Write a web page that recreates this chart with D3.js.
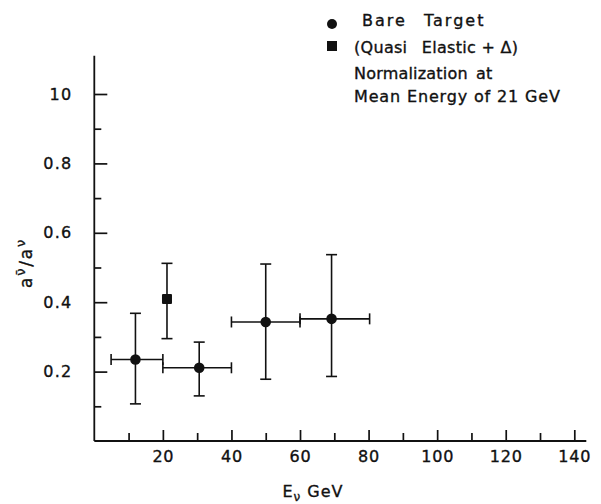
<!DOCTYPE html>
<html>
<head>
<meta charset="utf-8">
<script src="https://cdn.jsdelivr.net/npm/d3@7"></script>
<style>
  html, body { margin: 0; padding: 0; background: #fff; }
  text { font-family: "DejaVu Sans", sans-serif; fill: #111; stroke: #111; stroke-width: 0.35px; }
</style>
</head>
<body>
<svg id="chart" width="601" height="504"></svg>
<script>
// Bare target points: energy bin centre, bin edges, ratio and its error limits
const bareE     = [12, 30.6, 50, 69.2];
const bareELow  = [4.9, 20, 40, 60];
const bareEHigh = [20, 40, 60, 80.3];
const bareRatio = [0.235, 0.211, 0.343, 0.352];
const bareLow   = [0.107, 0.13, 0.178, 0.186];
const bareHigh  = [0.368, 0.285, 0.51, 0.537];

// Quasi-elastic + Delta point
const qeE     = [21.2];
const qeRatio = [0.409];
const qeLow   = [0.295];
const qeHigh  = [0.512];

// Axis ticks and labels
const xMajor = [20, 40, 60, 80, 100, 120, 140];
const xMinor = [10, 30, 50, 70, 90, 110, 130];
const yMajor = [0.2, 0.4, 0.6, 0.8, 1.0];
const yMajorLabels = ["0.2", "0.4", "0.6", "0.8", "10"];
const yMinor = [0.1, 0.3, 0.5, 0.7, 0.9];

const svg = d3.select("#chart");
const x = d3.scaleLinear().domain([0, 140]).range([94.3, 574.3]);
const y = d3.scaleLinear().domain([0, 1.0]).range([441, 94]);

const ink = "#111";
const g = svg.append("g");

function styleAxis(sel) {
  sel.select(".domain").remove();
  sel.selectAll(".tick line").attr("stroke", ink).attr("stroke-width", 1.7);
  sel.selectAll(".tick text").attr("fill", ink).attr("font-family", null);
}

// x axis: major ticks with labels, minor ticks without, all pointing into the plot
g.append("g").attr("transform", `translate(0,${y(0)})`)
  .call(d3.axisBottom(x).tickValues(xMajor).tickSizeInner(-11).tickSizeOuter(0).tickPadding(23).tickFormat(d3.format("d")))
  .call(styleAxis)
  .call(a => a.selectAll(".tick text").attr("font-size", 16).attr("letter-spacing", 0.8).attr("dy", "-0.1em"));
g.append("g").attr("transform", `translate(0,${y(0)})`)
  .call(d3.axisBottom(x).tickValues(xMinor).tickSizeInner(-8).tickSizeOuter(0).tickFormat(""))
  .call(styleAxis);

// y axis
g.append("g").attr("transform", `translate(${x(0)},0)`)
  .call(d3.axisLeft(y).tickValues(yMajor).tickSizeInner(-13).tickSizeOuter(0).tickPadding(22)
    .tickFormat((d, i) => yMajorLabels[i]))
  .call(styleAxis)
  .call(a => a.selectAll(".tick text").attr("font-size", 16).attr("letter-spacing", 1.2));
g.append("g").attr("transform", `translate(${x(0)},0)`)
  .call(d3.axisLeft(y).tickValues(yMinor).tickSizeInner(-7).tickSizeOuter(0).tickFormat(""))
  .call(styleAxis);

// axis lines
g.append("line").attr("x1", x(0)).attr("x2", x(143.5)).attr("y1", y(0)).attr("y2", y(0))
  .attr("stroke", ink).attr("stroke-width", 1.8);
g.append("line").attr("x1", x(0)).attr("x2", x(0)).attr("y1", y(0)).attr("y2", y(1.11))
  .attr("stroke", ink).attr("stroke-width", 1.8);

// axis titles
const xt = g.append("text").attr("x", 313).attr("y", 497).attr("text-anchor", "middle")
  .attr("font-size", 16).attr("letter-spacing", 1);
xt.append("tspan").text("E");
xt.append("tspan").attr("font-size", 12).attr("dy", 4).text("ν");
xt.append("tspan").attr("dy", -4).text(" GeV");

const yt = g.append("text").attr("transform", "translate(32,263) rotate(-90)")
  .attr("text-anchor", "middle").attr("font-size", 17).attr("letter-spacing", 1.8);
yt.append("tspan").text("a");
yt.append("tspan").attr("font-size", 13).attr("dy", -7).text("ν̄");
yt.append("tspan").attr("dy", 7).text("/a");
yt.append("tspan").attr("font-size", 13).attr("dy", -7).text("ν");

// error bars
function vbar(xv, lo, hi) {
  g.append("line").attr("x1", x(xv)).attr("x2", x(xv)).attr("y1", y(lo)).attr("y2", y(hi))
    .attr("stroke", ink).attr("stroke-width", 1.6);
  [lo, hi].forEach(v => g.append("line").attr("x1", x(xv) - 5.5).attr("x2", x(xv) + 5.5)
    .attr("y1", y(v)).attr("y2", y(v)).attr("stroke", ink).attr("stroke-width", 1.6));
}
function hbar(yv, lo, hi) {
  g.append("line").attr("x1", x(lo)).attr("x2", x(hi)).attr("y1", y(yv)).attr("y2", y(yv))
    .attr("stroke", ink).attr("stroke-width", 1.6);
  [lo, hi].forEach(v => g.append("line").attr("x1", x(v)).attr("x2", x(v))
    .attr("y1", y(yv) - 5.5).attr("y2", y(yv) + 5.5).attr("stroke", ink).attr("stroke-width", 1.6));
}

bareE.forEach((e, i) => {
  vbar(e, bareLow[i], bareHigh[i]);
  hbar(bareRatio[i], bareELow[i], bareEHigh[i]);
});
g.selectAll("circle.bare").data(bareE).join("circle").attr("class", "bare")
  .attr("cx", d => x(d)).attr("cy", (d, i) => y(bareRatio[i])).attr("r", 5.3).attr("fill", ink);

qeE.forEach((e, i) => vbar(e, qeLow[i], qeHigh[i]));
g.selectAll("rect.qe").data(qeE).join("rect").attr("class", "qe")
  .attr("x", d => x(d) - 5).attr("y", (d, i) => y(qeRatio[i]) - 5)
  .attr("width", 10).attr("height", 10).attr("rx", 1).attr("fill", ink);

// legend
g.append("circle").attr("cx", 332).attr("cy", 24).attr("r", 5).attr("fill", ink);
g.append("text").attr("x", 362).attr("y", 26).attr("font-size", 16)
  .attr("letter-spacing", 2).attr("word-spacing", 10).text("Bare Target");
g.append("rect").attr("x", 327).attr("y", 41).attr("width", 10).attr("height", 10).attr("fill", ink);
const q = g.append("text").attr("x", 354).attr("y", 53).attr("font-size", 16)
  .attr("letter-spacing", 0.3);
q.append("tspan").text("(Quasi");
q.append("tspan").attr("dx", 9).text(" Elastic + Δ)");
const n = g.append("text").attr("x", 354).attr("y", 79).attr("font-size", 16)
  .attr("letter-spacing", 0.2);
n.append("tspan").text("Normalization");
n.append("tspan").attr("dx", 3).text(" at");
g.append("text").attr("x", 354).attr("y", 102).attr("font-size", 16)
  .attr("letter-spacing", 0.85).text("Mean Energy of 21 GeV");
</script>
</body>
</html>
